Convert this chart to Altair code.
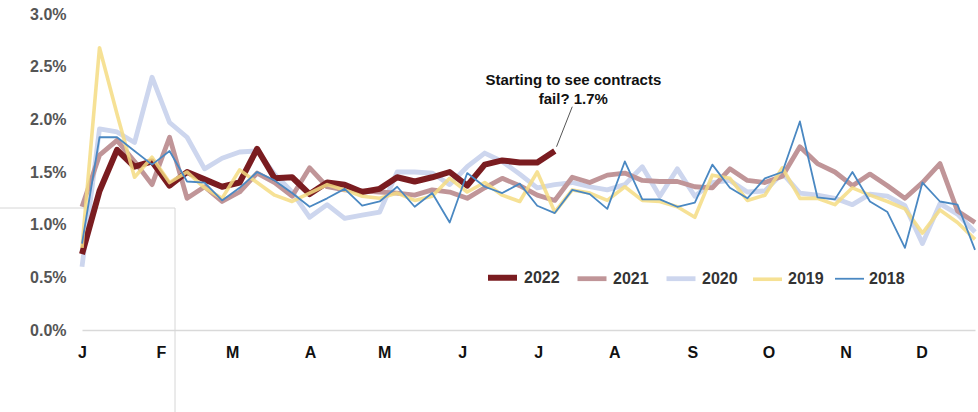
import json
import altair as alt
import pandas as pd

# ---------------- data ----------------
years = ["2022", "2021", "2020", "2019", "2018"]
year_colors = ["#7a1c20", "#c09598", "#cdd6ee", "#f5dc82", "#4a88c2"]
year_widths = [6, 4.8, 4.8, 3.6, 1.8]
year_opacity = [1.0, 1.0, 1.0, 0.85, 1.0]
draw_order = ["2020", "2021", "2022", "2019", "2018"]

v2022 = [0.72, 1.32, 1.71, 1.55, 1.60, 1.37, 1.50, 1.43, 1.36, 1.40,
         1.72, 1.44, 1.45, 1.29, 1.40, 1.38, 1.31, 1.34, 1.45, 1.41,
         1.45, 1.50, 1.37, 1.57, 1.61, 1.59, 1.59, 1.70]

v2021 = [1.17, 1.66, 1.80, 1.60, 1.38, 1.83, 1.25, 1.36, 1.22, 1.31,
         1.49, 1.40, 1.27, 1.54, 1.36, 1.33, 1.32, 1.31, 1.30, 1.28,
         1.33, 1.31, 1.25, 1.35, 1.44, 1.37, 1.28, 1.23, 1.45, 1.40,
         1.47, 1.49, 1.42, 1.41, 1.41, 1.36, 1.35, 1.53, 1.42, 1.40,
         1.46, 1.74, 1.58, 1.50, 1.37, 1.48, 1.37, 1.25, 1.40, 1.58,
         1.13, 1.02]

v2020 = [0.60, 1.91, 1.88, 1.78, 2.40, 1.97, 1.83, 1.53, 1.63, 1.69,
         1.70, 1.48, 1.31, 1.07, 1.19, 1.06, 1.09, 1.12, 1.50, 1.50,
         1.49, 1.38, 1.55, 1.68, 1.60, 1.48, 1.35, 1.38, 1.40, 1.36,
         1.33, 1.38, 1.55, 1.27, 1.53, 1.27, 1.40, 1.42, 1.31, 1.32,
         1.49, 1.30, 1.28, 1.25, 1.19, 1.29, 1.27, 1.18, 0.82, 1.20,
         1.10, 0.93]

v2019 = [0.78, 2.68, 2.05, 1.45, 1.64, 1.40, 1.50, 1.35, 1.25, 1.52,
         1.40, 1.28, 1.22, 1.30, 1.38, 1.33, 1.27, 1.25, 1.30, 1.23,
         1.27, 1.44, 1.31, 1.40, 1.28, 1.22, 1.50, 1.12, 1.33, 1.30,
         1.23, 1.36, 1.23, 1.22, 1.17, 1.07, 1.47, 1.44, 1.23, 1.28,
         1.54, 1.25, 1.25, 1.19, 1.35, 1.28, 1.22, 1.15, 0.92, 1.14,
         1.02, 0.86]

v2018 = [0.82, 1.83, 1.83, 1.70, 1.57, 1.70, 1.41, 1.40, 1.23, 1.35,
         1.50, 1.42, 1.30, 1.17, 1.25, 1.34, 1.18, 1.22, 1.36, 1.17,
         1.30, 1.02, 1.49, 1.36, 1.30, 1.39, 1.18, 1.11, 1.33, 1.29,
         1.15, 1.60, 1.24, 1.24, 1.17, 1.21, 1.57, 1.35, 1.25, 1.44,
         1.50, 1.98, 1.26, 1.24, 1.50, 1.22, 1.12, 0.78, 1.40, 1.22,
         1.19, 0.76]

month_labels = ["J", "F", "M", "A", "M", "J", "J", "A", "S", "O", "N", "D"]
month_pos = [0, 4.51, 8.57, 13.03, 17.26, 21.71, 26.06, 30.4, 34.86, 39.2, 43.6, 47.94]

y_ticks = [0, 0.5, 1.0, 1.5, 2.0, 2.5, 3.0]

ann_lines = ["Starting to see contracts", "fail? 1.7%"]
ann_x = 28.06
ann_y = [2.37, 2.19]
ann_ptr_from = (27.1, 1.74)
ann_ptr_to = (28.0, 2.12)

# ---------------- build table ----------------
series = {"2022": v2022, "2021": v2021, "2020": v2020, "2019": v2019, "2018": v2018}
rows = []
for yr in draw_order:
    for i, v in enumerate(series[yr]):
        rows.append({"year": yr, "week": i, "value": v})
df = pd.DataFrame(rows)

FONT = "Liberation Sans"

label_expr = (json.dumps(month_labels) + "[indexof(" + json.dumps(month_pos) + ", datum.value)]")

legend_cfg = dict(
    orient="none", legendX=403, legendY=246, direction="horizontal",
    title=None, symbolType="stroke", symbolSize=840,
    labelFont=FONT, labelFontSize=16, labelFontWeight="bold", labelColor="#333333",
    columnPadding=7, labelOffset=4,
)

lines = alt.Chart(df).mark_line(strokeJoin="round").encode(
    x=alt.X("week:Q",
            scale=alt.Scale(domain=[0, 51], nice=False, zero=False),
            axis=alt.Axis(values=month_pos, labelExpr=label_expr, title=None, grid=False,
                          ticks=False, domainColor="#d9d9d9", domainWidth=1.5,
                          labelFont=FONT, labelFontSize=16, labelFontWeight="bold",
                          labelColor="#111111", labelPadding=14, labelFlush=False,
                          labelOverlap=False)),
    y=alt.Y("value:Q",
            scale=alt.Scale(domain=[0, 3], nice=False),
            axis=alt.Axis(values=y_ticks, labelExpr="format(datum.value, '.1f') + '%'",
                          title=None, grid=False, ticks=False, domain=False,
                          labelFont=FONT, labelFontSize=16, labelFontWeight="bold",
                          labelColor="#555555", labelPadding=16)),
    color=alt.Color("year:N", scale=alt.Scale(domain=years, range=year_colors),
                    legend=alt.Legend(**legend_cfg)),
    strokeWidth=alt.StrokeWidth("year:N",
                                scale=alt.Scale(type="ordinal", domain=years, range=year_widths),
                                legend=alt.Legend(**legend_cfg)),
    opacity=alt.Opacity("year:N",
                        scale=alt.Scale(type="ordinal", domain=years, range=year_opacity),
                        legend=alt.Legend(**legend_cfg)),
)

ann_df = pd.DataFrame({"text": ann_lines, "x": [ann_x] * len(ann_lines), "y": ann_y})
ann_text = alt.Chart(ann_df).mark_text(
    font=FONT, fontSize=15, fontWeight="bold", color="#111111", align="center", baseline="middle"
).encode(x="x:Q", y="y:Q", text="text:N")

ptr_df = pd.DataFrame({"x": [ann_ptr_from[0]], "y": [ann_ptr_from[1]],
                       "x2": [ann_ptr_to[0]], "y2": [ann_ptr_to[1]]})
ann_ptr = alt.Chart(ptr_df).mark_rule(color="#555555", strokeWidth=1).encode(
    x="x:Q", y="y:Q", x2="x2:Q", y2="y2:Q")

frame_df = pd.DataFrame({"a": [0]})
frame_h = alt.Chart(frame_df).mark_rule(color="#d6d6d6", strokeWidth=1).encode(
    x=alt.value(-82), x2=alt.value(93), y=alt.value(194))
frame_v = alt.Chart(frame_df).mark_rule(color="#d6d6d6", strokeWidth=1).encode(
    x=alt.value(93), y=alt.value(194), y2=alt.value(400))

chart = alt.layer(frame_h, frame_v, lines, ann_ptr, ann_text).properties(
    width=893, height=316,
    padding={"left": 82, "top": 14, "right": 3, "bottom": 82},
    autosize=alt.AutoSizeParams(type="none"),
    background="white",
).configure_view(stroke=None)

chart.save("out.html", embed_options={"renderer": "svg", "actions": False})
